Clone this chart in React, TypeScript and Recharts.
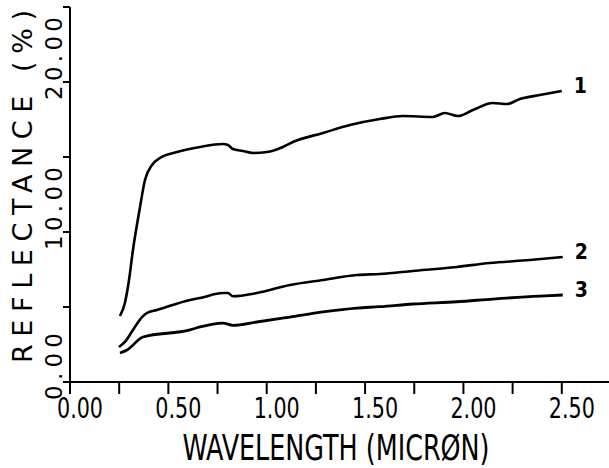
import React from "react";
import {
  LineChart,
  Line,
  XAxis,
  YAxis,
  LabelList,
} from "recharts";

// wavelength (micron) / reflectance (%)
const curve1 = [
  { x: 0.254, y: 4.4 },
  { x: 0.279, y: 5.27 },
  { x: 0.3, y: 6.8 },
  { x: 0.32, y: 8.8 },
  { x: 0.356, y: 11.67 },
  { x: 0.381, y: 13.47 },
  { x: 0.417, y: 14.47 },
  { x: 0.457, y: 14.93 },
  { x: 0.544, y: 15.33 },
  { x: 0.661, y: 15.67 },
  { x: 0.777, y: 15.87 },
  { x: 0.803, y: 15.8 },
  { x: 0.828, y: 15.53 },
  { x: 0.879, y: 15.4 },
  { x: 0.93, y: 15.27 },
  { x: 1.001, y: 15.33 },
  { x: 1.082, y: 15.67 },
  { x: 1.133, y: 16.0 },
  { x: 1.286, y: 16.6 },
  { x: 1.423, y: 17.13 },
  { x: 1.575, y: 17.53 },
  { x: 1.692, y: 17.73 },
  { x: 1.845, y: 17.67 },
  { x: 1.905, y: 17.93 },
  { x: 1.972, y: 17.73 },
  { x: 2.048, y: 18.13 },
  { x: 2.149, y: 18.6 },
  { x: 2.221, y: 18.53 },
  { x: 2.287, y: 18.87 },
  { x: 2.388, y: 19.13 },
  { x: 2.5, y: 19.4 },
];

const curve2 = [
  { x: 0.249, y: 2.33 },
  { x: 0.279, y: 2.67 },
  { x: 0.32, y: 3.47 },
  { x: 0.366, y: 4.33 },
  { x: 0.391, y: 4.6 },
  { x: 0.442, y: 4.8 },
  { x: 0.61, y: 5.47 },
  { x: 0.661, y: 5.6 },
  { x: 0.777, y: 5.93 },
  { x: 0.803, y: 5.93 },
  { x: 0.828, y: 5.72 },
  { x: 0.95, y: 5.93 },
  { x: 1.118, y: 6.47 },
  { x: 1.286, y: 6.8 },
  { x: 1.458, y: 7.13 },
  { x: 1.575, y: 7.2 },
  { x: 1.743, y: 7.4 },
  { x: 1.966, y: 7.67 },
  { x: 2.134, y: 7.93 },
  { x: 2.337, y: 8.13 },
  { x: 2.505, y: 8.33 },
];

const curve3 = [
  { x: 0.254, y: 1.93 },
  { x: 0.29, y: 2.13 },
  { x: 0.371, y: 3.0 },
  { x: 0.61, y: 3.47 },
  { x: 0.661, y: 3.67 },
  { x: 0.777, y: 3.93 },
  { x: 0.828, y: 3.78 },
  { x: 0.95, y: 4.0 },
  { x: 1.118, y: 4.33 },
  { x: 1.286, y: 4.67 },
  { x: 1.458, y: 4.93 },
  { x: 1.575, y: 5.02 },
  { x: 1.743, y: 5.2 },
  { x: 1.966, y: 5.35 },
  { x: 2.149, y: 5.53 },
  { x: 2.388, y: 5.73 },
  { x: 2.505, y: 5.8 },
];

const xTicks = [0, 0.25, 0.5, 0.75, 1, 1.25, 1.5, 1.75, 2, 2.25, 2.5];
const yTicks = [0, 5, 10, 15, 20, 25];

const NARROW = "'DejaVu Sans Condensed', 'Liberation Sans Narrow', sans-serif";
const WIDE = "'DejaVu Sans', 'Liberation Sans', sans-serif";

const XTick = ({ x, y, payload }: any) => {
  const v = payload.value;
  if (Math.round(v * 100) % 50 !== 0) return <g />;
  return (
    <text
      x={x + 10}
      y={y + 22}
      textAnchor="middle"
      fontFamily={NARROW}
      fontSize={28}
      fill="#000"
      textLength={46}
      lengthAdjust="spacingAndGlyphs"
    >
      {v.toFixed(2)}
    </text>
  );
};

const YTick = ({ x, y, payload }: any) => {
  const v = payload.value;
  if (v % 10 !== 0) return <g />;
  const s = v.toFixed(2);
  return (
    <text
      transform={`translate(${x + 1},${y + 18}) rotate(-90)`}
      fontFamily={WIDE}
      fontSize={23}
      fill="#000"
      textLength={s.length === 5 ? 83 : 67}
      lengthAdjust="spacing"
    >
      {s}
    </text>
  );
};

const endLabel = (name: string, n: number) => (p: any) => {
  if (p.index !== n - 1) return null;
  return (
    <text
      key={name}
      x={p.x + 12}
      y={p.y + 2}
      fontFamily={NARROW}
      fontWeight="bold"
      fontSize={21}
      fill="#000"
    >
      {name}
    </text>
  );
};

export default function App() {
  return (
    <div style={{ position: "absolute", left: 0, top: 0, background: "#fff" }}>
      <LineChart
        width={609}
        height={468}
        margin={{ top: 7, right: 0, left: 0, bottom: 0 }}
      >
        <XAxis
          type="number"
          dataKey="x"
          domain={[0, 2.74]}
          ticks={xTicks}
          tickSize={12}
          tick={XTick}
          height={86}
          stroke="#000"
          strokeWidth={2}
          allowDataOverflow
          label={{
            content: ({ viewBox }: any) => (
              <text
                x={viewBox.x + 266}
                y={viewBox.y + 78}
                textAnchor="middle"
                fontFamily={NARROW}
                fontSize={36}
                fill="#000"
                textLength={307}
                lengthAdjust="spacingAndGlyphs"
              >
                WAVELENGTH (MICRØN)
              </text>
            ),
          }}
        />
        <YAxis
          type="number"
          domain={[0, 25]}
          ticks={yTicks}
          tickSize={7}
          tick={YTick}
          width={70}
          stroke="#000"
          strokeWidth={2}
          label={{
            content: ({ viewBox }: any) => (
              <text
                transform={`translate(${viewBox.x + 32},${viewBox.y + viewBox.height - 19}) rotate(-90)`}
                fontFamily={WIDE}
                fontSize={27}
                fill="#000"
                textLength={353}
                lengthAdjust="spacing"
              >
                REFLECTANCE (%)
              </text>
            ),
          }}
        />
        <Line
          data={curve1}
          dataKey="y"
          type="monotone"
          stroke="#000"
          strokeWidth={2.6}
          dot={false}
          isAnimationActive={false}
        >
          <LabelList dataKey="y" content={endLabel("1", curve1.length)} />
        </Line>
        <Line
          data={curve2}
          dataKey="y"
          type="monotone"
          stroke="#000"
          strokeWidth={2.6}
          dot={false}
          isAnimationActive={false}
        >
          <LabelList dataKey="y" content={endLabel("2", curve2.length)} />
        </Line>
        <Line
          data={curve3}
          dataKey="y"
          type="monotone"
          stroke="#000"
          strokeWidth={2.8}
          dot={false}
          isAnimationActive={false}
        >
          <LabelList dataKey="y" content={endLabel("3", curve3.length)} />
        </Line>
      </LineChart>
    </div>
  );
}
